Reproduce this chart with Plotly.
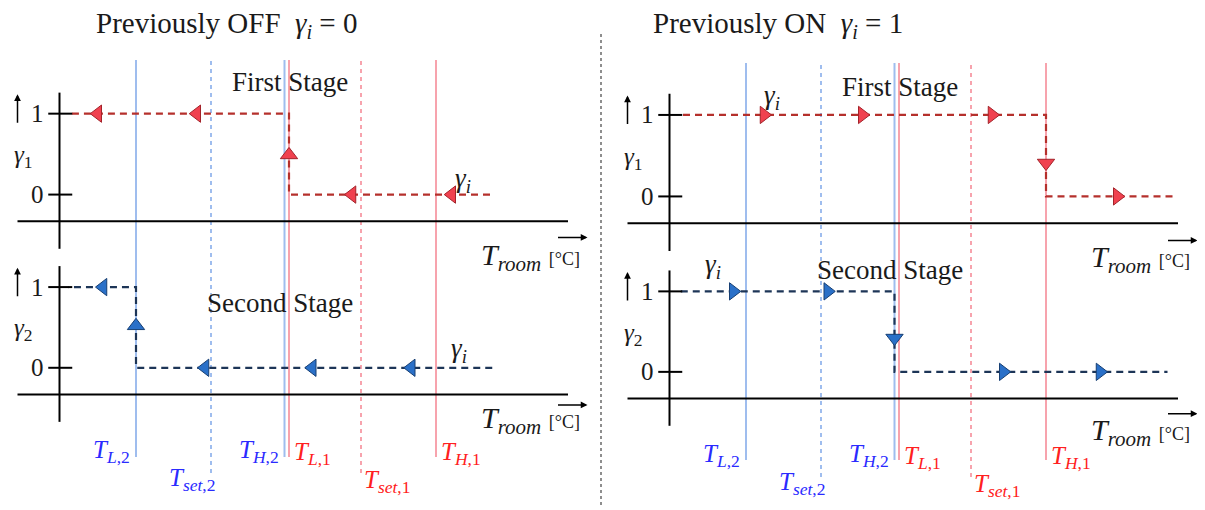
import plotly.graph_objects as go

W, H = 1205, 510
OFF = 8                      # page body margin
WF, HF = W - OFF, H - OFF    # figure size
FONT = "Liberation Serif"
INK = "#1a1a1a"

# ---------------- data ----------------
# schematic temperature thresholds (degC)
T_L2, T_SET2, T_H2, T_L1, T_SET1, T_H1 = 18.0, 19.0, 19.98, 20.04, 21.0, 22.0
threshold_values = [T_L2, T_SET2, T_H2, T_L1, T_SET1, T_H1]
threshold_labels = ["<i>T</i><sub><i>L</i>,2</sub>", "<i>T</i><sub><i>set</i>,2</sub>",
                    "<i>T</i><sub><i>H</i>,2</sub>", "<i>T</i><sub><i>L</i>,1</sub>",
                    "<i>T</i><sub><i>set</i>,1</sub>", "<i>T</i><sub><i>H</i>,1</sub>"]
threshold_stage = [2, 2, 2, 1, 1, 1]
threshold_is_set = [False, True, False, False, True, False]

# Previously OFF (gamma_i = 0)
off_s1_x = [22.72, T_L1, T_L1, 17.10]
off_s1_y = [0, 0, 1, 1]
off_s1_arrow_x = [22.21, 20.88, T_L1, 18.81, 17.49]
off_s1_arrow_y = [0, 0, 0.49, 1, 1]
off_s1_arrow_dir = ["left", "left", "up", "left", "left"]

off_s2_x = [22.75, T_L2, T_L2, 17.10]
off_s2_y = [0, 0, 1, 1]
off_s2_arrow_x = [21.67, 20.35, 18.92, T_L2, 17.56]
off_s2_arrow_y = [0, 0, 0, 0.52, 1]
off_s2_arrow_dir = ["left", "left", "left", "up", "left"]

# Previously ON (gamma_i = 1)
on_s1_x = [17.16, T_H1, T_H1, 23.75]
on_s1_y = [1, 1, 0, 0]
on_s1_arrow_x = [18.24, 19.55, 21.28, T_H1, 22.95]
on_s1_arrow_y = [1, 1, 1, 0.41, 0]
on_s1_arrow_dir = ["right", "right", "right", "down", "right"]

on_s2_x = [17.13, T_H2, T_H2, 23.62]
on_s2_y = [1, 1, 0, 0]
on_s2_arrow_x = [17.83, 19.09, T_H2, 21.43, 22.72]
on_s2_arrow_y = [1, 1, 0.42, 0, 0]
on_s2_arrow_dir = ["right", "right", "down", "right", "right"]

y_ticks = [0, 1]

# ---------------- styles ----------------
RED_LINE, RED_FILL, RED_EDGE = "#b5302c", "#f0414f", "#a3232a"
BLUE_LINE, BLUE_FILL, BLUE_EDGE = "#1d3557", "#2a70c8", "#173f73"
LIGHT = {1: "#f7a3ad", 2: "#9fbdee"}
LABEL = {1: "#ff2020", 2: "#2a2aff"}


def pxx(px):
    return (px - OFF) / WF


def pxy(py):
    return 1 - (py - OFF) / HF


fig = go.Figure()

panels = [
    dict(xa="x", ya_top="y", ya_bot="y2",
         s1=(off_s1_x, off_s1_y, off_s1_arrow_x, off_s1_arrow_y, off_s1_arrow_dir),
         s2=(off_s2_x, off_s2_y, off_s2_arrow_x, off_s2_arrow_y, off_s2_arrow_dir)),
    dict(xa="x2", ya_top="y3", ya_bot="y4",
         s1=(on_s1_x, on_s1_y, on_s1_arrow_x, on_s1_arrow_y, on_s1_arrow_dir),
         s2=(on_s2_x, on_s2_y, on_s2_arrow_x, on_s2_arrow_y, on_s2_arrow_dir)),
]

for p in panels:
    for key, ya, lc, fc, ec in [("s1", p["ya_top"], RED_LINE, RED_FILL, RED_EDGE),
                                ("s2", p["ya_bot"], BLUE_LINE, BLUE_FILL, BLUE_EDGE)]:
        lx, ly, ax_, ay_, ad = p[key]
        fig.add_trace(go.Scatter(x=lx, y=ly, xaxis=p["xa"], yaxis=ya, mode="lines",
                                 line=dict(color=lc, width=2.2, dash="7px,5px"),
                                 hoverinfo="skip", showlegend=False))
        fig.add_trace(go.Scatter(x=ax_, y=ay_, xaxis=p["xa"], yaxis=ya, mode="markers",
                                 marker=dict(symbol=["triangle-" + d for d in ad], size=15,
                                             color=fc, line=dict(color=ec, width=1)),
                                 hoverinfo="skip", showlegend=False))

shapes = []
annotations = []

# threshold lines + labels
for xa, top_px, solid_bot, dot_bot, lab_dy in [("x", 60, 457, 473, 0), ("x2", 63, 460, 477, 4)]:
    for v, lab, st, is_set in zip(threshold_values, threshold_labels, threshold_stage, threshold_is_set):
        shapes.append(dict(type="line", xref=xa, yref="paper", x0=v, x1=v,
                           y0=pxy(dot_bot if is_set else solid_bot), y1=pxy(top_px),
                           line=dict(color=LIGHT[st], width=2, dash="4px,4px" if is_set else "solid"),
                           layer="below"))
        if is_set:
            xanchor, xshift, ly = ("right", 6, 479) if st == 2 else ("left", 1, 481)
        else:
            xanchor, xshift, ly = ("right", -4, 451) if st == 2 else ("left", 3, 453)
        annotations.append(dict(x=v, y=pxy(ly + lab_dy), xref=xa, yref="paper", text=lab,
                                showarrow=False, xanchor=xanchor, yanchor="middle", xshift=xshift,
                                font=dict(family=FONT, size=25, color=LABEL[st])))

# axes drawn as shapes in each sub-plot's scale
Y0_AX = 16.98   # x position of vertical axis
for xa, ya, gname, lab_y, arr_y in [("x", "y", "1", -0.77, -0.53), ("x", "y2", "2", -0.65, -0.46),
                                    ("x2", "y3", "1", -0.77, -0.54), ("x2", "y4", "2", -0.75, -0.52)]:
    shapes.append(dict(type="line", xref=xa, yref=ya, x0=16.42, x1=23.76, y0=-0.33, y1=-0.33,
                       line=dict(color="black", width=2)))
    shapes.append(dict(type="line", xref=xa, yref=ya, x0=Y0_AX, x1=Y0_AX, y0=-0.67, y1=1.26,
                       line=dict(color="black", width=2)))
    for t in y_ticks:
        shapes.append(dict(type="line", xref=xa, yref=ya, x0=Y0_AX - 0.15, x1=Y0_AX + 0.17, y0=t, y1=t,
                           line=dict(color="black", width=2)))
        annotations.append(dict(x=Y0_AX - 0.29, y=t, xref=xa, yref=ya, text=str(t), showarrow=False,
                                xanchor="center", yanchor="middle",
                                font=dict(family=FONT, size=25, color=INK)))
    annotations.append(dict(x=16.42, y=1.24, xref=xa, yref=ya, ax=0, ay=30, text="", showarrow=True,
                            arrowhead=2, arrowsize=0.9, arrowwidth=1.5, arrowcolor="black"))
    annotations.append(dict(x=16.50, y=0.47, xref=xa, yref=ya,
                            text="<i>γ</i><sub>" + gname + "</sub>", showarrow=False,
                            xanchor="center", yanchor="middle",
                            font=dict(family=FONT, size=25, color=INK)))
    annotations.append(dict(x=23.95, y=lab_y, xref=xa, yref=ya,
                            text="<i>T</i><sub><i>room</i></sub> <span style='font-size:18px'>[°C]</span>",
                            showarrow=False, xanchor="right", yanchor="middle",
                            font=dict(family=FONT, size=30, color=INK)))
    annotations.append(dict(x=24.02, y=arr_y, xref=xa, yref=ya, ax=-31, ay=0, text="", showarrow=True,
                            arrowhead=2, arrowsize=0.9, arrowwidth=1.5, arrowcolor="black"))

# divider
shapes.append(dict(type="line", xref="paper", yref="paper", x0=pxx(601), x1=pxx(601),
                   y0=pxy(505), y1=pxy(32), line=dict(color="#444", width=1.2, dash="3px,3px")))

# titles and texts (reference pixel positions)
texts = [
    (226, 25, "Previously OFF  <i>γ<sub>i</sub></i> = 0", 29),
    (778, 25, "Previously ON  <i>γ<sub>i</sub></i> = 1", 29),
    (290, 82, "First Stage", 27),
    (280, 303, "Second Stage", 27),
    (900, 87, "First Stage", 27),
    (890, 270, "Second Stage", 27),
    (463, 180, "<i>γ<sub>i</sub></i>", 27),
    (459, 350, "<i>γ<sub>i</sub></i>", 27),
    (772, 97, "<i>γ<sub>i</sub></i>", 27),
    (713, 266, "<i>γ<sub>i</sub></i>", 27),
]
for px, py, txt, sz in texts:
    annotations.append(dict(x=pxx(px), y=pxy(py), xref="paper", yref="paper", text=txt,
                            showarrow=False, xanchor="center", yanchor="middle",
                            font=dict(family=FONT, size=sz, color=INK)))

hidden = dict(visible=False, fixedrange=True)
fig.update_layout(
    width=WF, height=HF,
    margin=dict(l=0, r=0, t=0, b=0),
    paper_bgcolor="white", plot_bgcolor="rgba(0,0,0,0)",
    showlegend=False,
    xaxis=dict(domain=[0, (600 - OFF) / WF], range=[16.2933, 24.1867], anchor="y", **hidden),
    xaxis2=dict(domain=[(600 - OFF) / WF, 1], range=[16.0533, 24.12], anchor="y3", **hidden),
    yaxis=dict(domain=[0, 1], range=[-3.898, 2.3057], anchor="x", **hidden),
    yaxis2=dict(domain=[0, 1], range=[-1.762, 4.4578], anchor="x", **hidden),
    yaxis3=dict(domain=[0, 1], range=[-3.848, 2.3123], anchor="x2", **hidden),
    yaxis4=dict(domain=[0, 1], range=[-1.716, 4.5205], anchor="x2", **hidden),
    shapes=shapes,
    annotations=annotations,
)

fig.write_html("out.html")
